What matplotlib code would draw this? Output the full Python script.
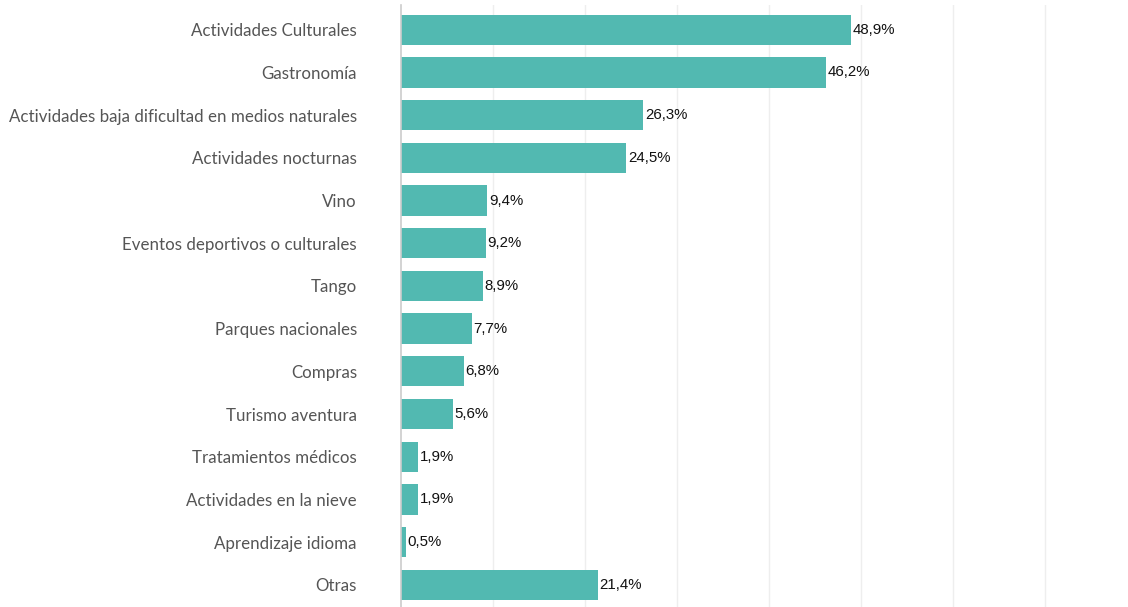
import matplotlib.pyplot as plt

# categorías y porcentajes
categorias = [
    "Actividades Culturales",
    "Gastronomía",
    "Actividades baja dificultad en medios naturales",
    "Actividades nocturnas",
    "Vino",
    "Eventos deportivos o culturales",
    "Tango",
    "Parques nacionales",
    "Compras",
    "Turismo aventura",
    "Tratamientos médicos",
    "Actividades en la nieve",
    "Aprendizaje idioma",
    "Otras",
]
valores = [48.9, 46.2, 26.3, 24.5, 9.4, 9.2, 8.9, 7.7, 6.8, 5.6, 1.9, 1.9, 0.5, 21.4]
etiquetas = [f"{v:.1f}%".replace(".", ",") for v in valores]

color_barra = "#52b9b1"

fig = plt.figure(figsize=(11.28, 6.07), dpi=100)
ax = fig.add_axes([401 / 1128, 0, 1 - 401 / 1128, 1 - 5 / 607])

pos = list(range(len(categorias)))
ax.barh(pos, valores, height=0.71, color=color_barra, zorder=3)

for p, v, t in zip(pos, valores, etiquetas):
    ax.text(v + 0.2, p, t, va="center", ha="left", fontsize=10.8,
            family="Liberation Sans", color="#111111", zorder=4)

ax.set_xlim(0, (1128 - 401) / 9.2)
ax.set_ylim(len(categorias) - 0.5 + 0.02, -0.5 - 0.08)
ax.set_xticks(range(10, 80, 10))
ax.set_yticks(pos)
ax.set_yticklabels(categorias, fontsize=12.2, color="#555555", family="Lato")
ax.tick_params(axis="y", length=0, pad=31.7)
ax.tick_params(axis="x", length=0, labelbottom=False)
ax.grid(axis="x", color="#eeeeee", linewidth=1, zorder=0)

for s in ["top", "right", "bottom"]:
    ax.spines[s].set_visible(False)
ax.spines["left"].set_color("#cccccc")
ax.spines["left"].set_linewidth(1.2)
ax.spines["left"].set_zorder(5)

fig.savefig("out.png", dpi=100)
